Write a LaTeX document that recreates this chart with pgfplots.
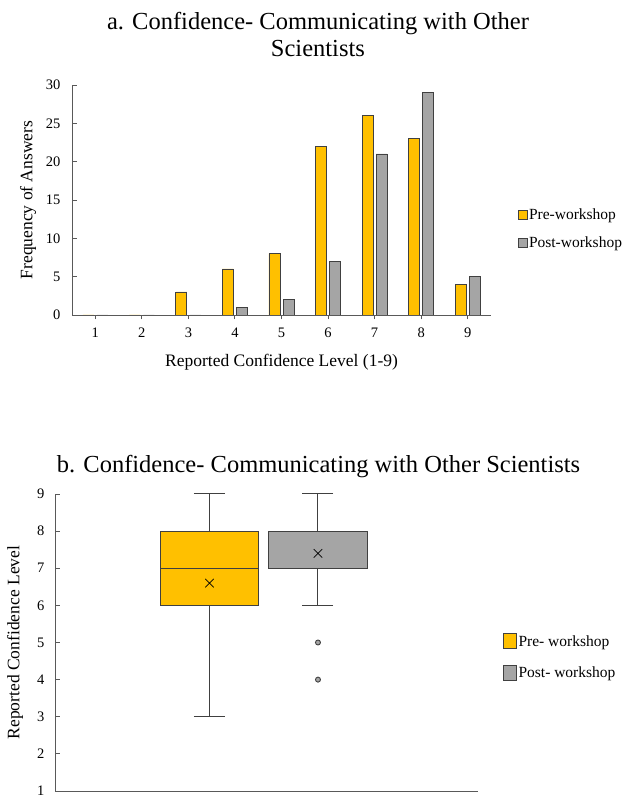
\documentclass[border=0pt]{standalone}
\usepackage{pgfplots}
\pgfplotsset{compat=1.18}
\usepgfplotslibrary{statistics}
\usepackage{fontspec}
\setmainfont{Liberation Serif}
\definecolor{preY}{HTML}{FFC000}
\definecolor{postG}{HTML}{A5A5A5}
\definecolor{edge}{HTML}{404040}
\definecolor{axc}{HTML}{595959}
\pgfplotsset{
  sqA/.style={legend image code/.code={\draw[##1] (0pt,-4.5pt) rectangle (9pt,4.5pt);}},
  sqB/.style={legend image code/.code={\draw[##1] (0pt,-7.5pt) rectangle (13pt,7.5pt);}},
}
\begin{document}
\begin{tikzpicture}[x=1pt,y=1pt]
\path[use as bounding box] (0,0) rectangle (625,799);
% ---------- a. bar chart ----------
\begin{axis}[
  at={(72pt,484pt)}, anchor=south west,
  scale only axis, width=419pt, height=230pt,
  xmin=0.5, xmax=9.5, ymin=0, ymax=30,
  xtick={1,...,9}, ytick={0,5,...,30},
  axis lines=left, axis line style={axc, line width=0.9pt, -},
  tick style={axc, line width=0.9pt}, major tick length=4.5pt,
  tick align=inside,
  /pgf/number format/assume math mode=true,
  ticklabel style={font=\fontsize{14.5}{16}\selectfont},
  xticklabel style={anchor=center, yshift=-13pt},
  yticklabel style={xshift=-8pt},
  label style={font=\fontsize{17.5}{20}\selectfont},
  xlabel={Reported Confidence Level (1-9)},
  xlabel style={at={(axis description cs:0.5,0)}, anchor=center, yshift=-47pt},
  ylabel={Frequency of Answers},
  ylabel style={at={(axis description cs:0,0.5)}, anchor=center, yshift=44pt},
  title={a. Confidence- Communicating with Other\\Scientists},
  title style={font=\fontsize{24.5}{27}\selectfont, align=center, inner sep=0pt,
    at={(axis description cs:0.587,1)}, anchor=south, yshift=22pt},
  ybar, bar width=11pt,
  legend style={at={(axis description cs:1.064,0.375)}, anchor=west, draw=none, fill=none,
    font=\fontsize{15.5}{17}\selectfont, row sep=13pt, inner sep=0pt,
    nodes={inner sep=1.2pt}},
  legend cell align=left,
]
\addplot[bar shift=-7pt, fill=preY, draw=edge, line width=0.8pt, sqA]
  coordinates {(1,0) (2,0) (3,3) (4,6) (5,8) (6,22) (7,26) (8,23) (9,4)};
\addlegendentry{Pre-workshop}
\addplot[bar shift=7pt, fill=postG, draw=edge, line width=0.8pt, sqA]
  coordinates {(1,0) (2,0) (3,0) (4,1) (5,2) (6,7) (7,21) (8,29) (9,5)};
\addlegendentry{Post-workshop}
\end{axis}
% ---------- b. box plot ----------
\begin{axis}[
  at={(55pt,8pt)}, anchor=south west,
  scale only axis, width=423pt, height=297pt,
  xmin=-0.424, xmax=3.475, ymin=1, ymax=9,
  xtick=\empty, ytick={1,...,9},
  boxplot/draw direction=y,
  axis lines=left, axis line style={axc, line width=0.9pt, -},
  tick style={axc, line width=0.9pt}, major tick length=4.5pt,
  tick align=inside,
  /pgf/number format/assume math mode=true,
  ticklabel style={font=\fontsize{14.5}{16}\selectfont},
  yticklabel style={xshift=-7pt},
  label style={font=\fontsize{17.5}{20}\selectfont},
  ylabel={Reported Confidence Level},
  ylabel style={at={(axis description cs:0,0.5)}, anchor=center, yshift=40pt},
  title={b. Confidence- Communicating with Other Scientists},
  title style={font=\fontsize{24.5}{27}\selectfont, inner sep=0pt,
    at={(axis description cs:0.623,1)}, anchor=base, yshift=15pt},
  legend style={at={(axis description cs:1.059,0.45)}, anchor=west, draw=none, fill=none,
    font=\fontsize{15.5}{17}\selectfont, row sep=16pt, inner sep=0pt,
    nodes={inner sep=1.5pt}},
  legend cell align=left,
]
\addlegendimage{fill=preY, draw=edge, line width=0.9pt, sqB}
\addlegendentry{Pre- workshop}
\addlegendimage{fill=postG, draw=edge, line width=0.9pt, sqB}
\addlegendentry{Post- workshop}
\addplot[boxplot prepared={draw position=1, lower whisker=3, lower quartile=6,
    median=7, upper quartile=8, upper whisker=9, box extend=0.912, whisker extend=0.286},
  fill=preY, draw=edge, line width=1pt, solid, forget plot]
  coordinates {};
\addplot[boxplot prepared={draw position=2, lower whisker=6, lower quartile=7,
    median=8, upper quartile=8, upper whisker=9, box extend=0.912, whisker extend=0.286},
  fill=postG, draw=edge, line width=1pt, solid, forget plot,
  mark=*, mark size=2.5pt, mark options={fill=postG, draw=edge, line width=0.9pt}]
  table[row sep=\\, y index=0] {5\\4\\};
\addplot[only marks, mark=x, mark size=6pt, mark options={black, line width=0.7pt}, forget plot]
  coordinates {(1,6.6) (2,7.4)};
\end{axis}
\end{tikzpicture}
\end{document}
